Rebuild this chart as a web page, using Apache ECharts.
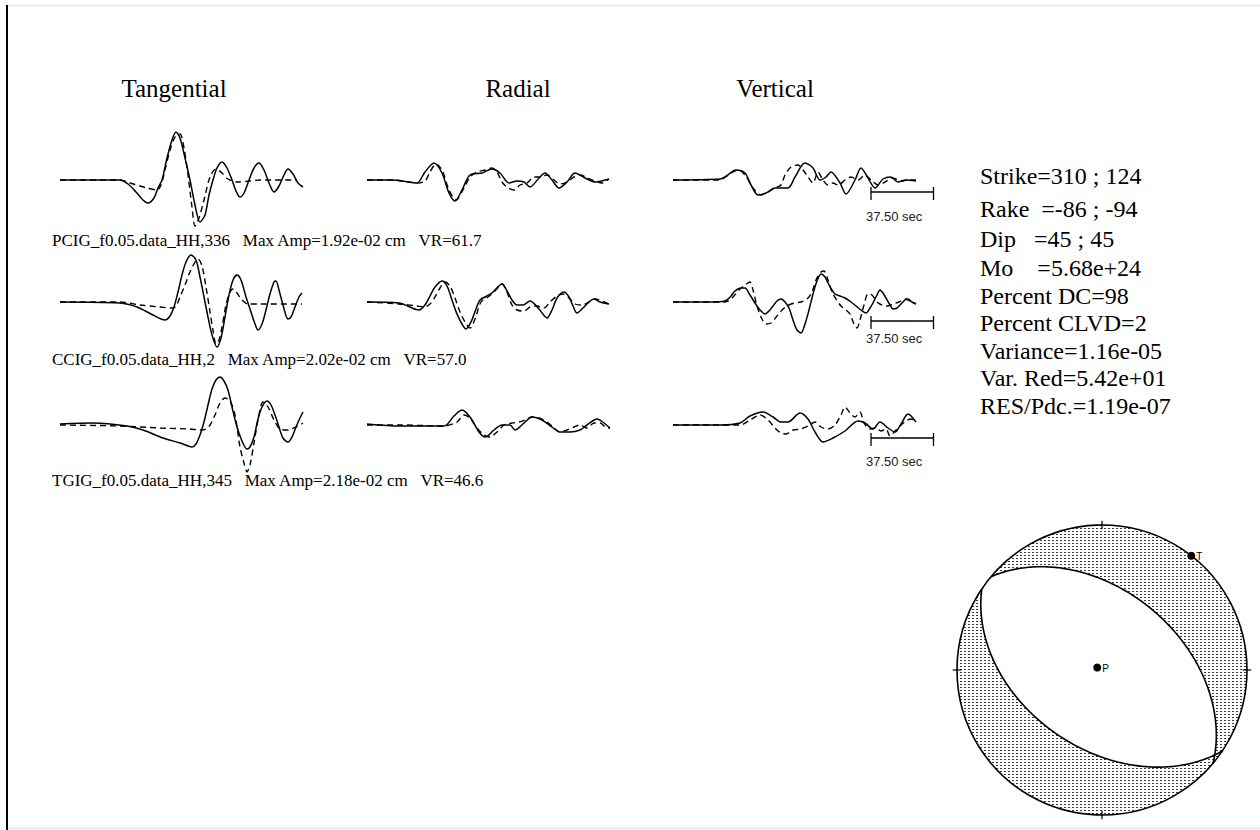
<!DOCTYPE html>
<html><head><meta charset="utf-8">
<script src="https://cdn.jsdelivr.net/npm/echarts/dist/echarts.min.js"></script>
<style>html,body{margin:0;padding:0;background:#fff}#chart{width:1260px;height:830px}</style>
</head><body><div id="chart"></div>
<script>
// ---------------- DATA ----------------
const DT = 0.6; // seconds per sample
const components = ['Tangential', 'Radial', 'Vertical'];
const stations = ['PCIG_f0.05.data_HH,336', 'CCIG_f0.05.data_HH,2', 'TGIG_f0.05.data_HH,345'];
const maxAmps = ['1.92e-02', '2.02e-02', '2.18e-02'];
const varReds = ['61.7', '57.0', '46.6'];
const scaleSec = 37.5;
const scaleStart = 198;
const scaleAmp = [-12, -19, -13];

// observed (solid) and synthetic (dashed) traces: [sample, relative amplitude]
const obsT1 = [[0,0],[60,0],[68,-4],[76,-12],[83,-20],[88,-23],[94,-18],[98,-8],[102,0],[107,22],[112,40],[116,48],[120,42],[125,22],[130,0],[135,-25],[140,-42],[145,-35],[149,-15],[153,0],[157,12],[162,18],[167,12],[172,0],[176,-11],[180,-17],[184,-13],[189,0],[194,12],[199,17],[204,10],[209,-3],[214,-12],[219,-6],[224,5],[228,11],[233,6],[238,-3],[243,-7]];
const synT1 = [[0,0],[60,0],[70,-3],[80,-6],[87,-8],[97,-10],[101,-5],[105,10],[110,30],[115,43],[120,46],[124,32],[128,5],[132,-27],[135,-46],[139,-38],[144,-20],[150,3],[156,11],[162,7],[168,1],[177,-2],[190,-1],[200,0],[237,0]];
const obsR1 = [[0,0],[25,0],[42,-2],[50,-3],[58,8],[67,17],[75,7],[82,-13],[88,-21],[95,-10],[103,5],[115,7],[125,11],[133,7],[142,-3],[150,-1],[157,-2],[163,-7],[172,2],[178,7],[185,0],[192,-8],[200,-2],[208,7],[218,2],[228,-2],[242,1]];
const synR1 = [[0,0],[25,0],[42,-2],[50,-3],[58,-1],[63,8],[69,16],[75,10],[82,-10],[89,-20],[96,-10],[103,3],[110,8],[118,10],[125,12],[130,8],[135,-2],[140,-7],[147,-10],[153,-5],[160,-3],[167,3],[173,3],[180,5],[187,0],[193,-4],[200,-2],[207,3],[214,5],[220,2],[228,-1],[235,-3],[242,1]];
const obsV1 = [[0,0],[47,1],[52,3],[63,10],[72,7],[78,-5],[85,-15],[93,-13],[102,-8],[115,-8],[122,3],[132,17],[140,12],[147,0],[153,3],[158,8],[167,-3],[173,-14],[182,0],[188,12],[195,2],[202,-8],[210,1],[218,3],[225,-2],[233,0],[243,-1]];
const synV1 = [[0,0],[47,0],[52,3],[60,8],[65,10],[72,5],[80,-8],[88,-15],[95,-12],[102,-8],[108,-5],[112,5],[118,13],[125,15],[130,10],[135,3],[140,-3],[145,8],[150,0],[155,-5],[160,-3],[165,-5],[172,0],[178,3],[185,0],[192,5],[198,0],[205,-5],[212,-2],[220,2],[228,-1],[235,0],[243,0]];

const obsT2 = [[0,0],[60,-1],[77,-5],[93,-13],[105,-18],[110,-14],[114,-5],[118,10],[122,27],[126,40],[131,47],[136,42],[140,25],[144,5],[148,-15],[152,-33],[157,-45],[161,-36],[165,-15],[169,7],[173,22],[177,27],[181,22],[186,5],[191,-10],[195,-22],[198,-28],[202,-22],[206,-8],[210,8],[214,20],[216,21],[219,12],[223,-3],[228,-17],[231,-15],[235,-5],[239,5],[242,9]];
const synT2 = [[0,0],[60,0],[80,-3],[100,-5],[112,-6],[116,-4],[120,5],[125,17],[130,30],[135,40],[138,43],[142,36],[146,15],[150,-10],[153,-28],[156,-42],[159,-38],[162,-25],[166,-3],[170,10],[173,13],[177,9],[182,2],[188,-2],[200,-2],[242,-2]];
const obsR2 = [[0,0],[32,-1],[52,-8],[58,-3],[63,6],[68,15],[75,21],[80,16],[85,2],[90,-12],[95,-22],[99,-27],[104,-20],[109,-7],[113,2],[120,6],[126,10],[135,18],[140,11],[145,2],[150,-3],[156,-3],[163,1],[172,-7],[180,-16],[185,-8],[190,4],[197,10],[202,5],[206,-4],[210,-11],[216,-6],[222,0],[227,3],[233,0],[242,-2]];
const synR2 = [[0,0],[32,-2],[50,-4],[57,-5],[63,-2],[68,5],[73,14],[78,20],[83,16],[88,4],[93,-10],[98,-20],[103,-26],[108,-17],[114,0],[121,5],[128,11],[135,18],[140,10],[145,-3],[150,-8],[157,-9],[163,-5],[170,-4],[177,-6],[183,0],[190,6],[196,8],[202,4],[208,-2],[215,-3],[222,0],[228,3],[235,1],[242,-2]];
const obsV2 = [[0,0],[37,0],[52,1],[58,6],[62,11],[68,14],[72,14],[77,7],[82,-1],[87,-8],[92,-12],[96,-9],[100,-4],[104,1],[108,3],[112,0],[116,-6],[120,-18],[124,-28],[128,-31],[132,-22],[136,-8],[140,8],[144,21],[148,28],[152,25],[155,19],[159,12],[162,8],[167,6],[172,4],[178,0],[183,-4],[188,-8],[193,-11],[197,-6],[200,-1],[204,7],[207,12],[210,9],[213,4],[217,-3],[220,-7],[224,-6],[228,-2],[232,2],[235,3],[239,0],[243,-2]];
const synV2 = [[0,0],[50,0],[55,1],[60,5],[66,12],[72,17],[77,20],[80,12],[84,-4],[88,-15],[93,-22],[98,-21],[104,-14],[110,-7],[116,-3],[122,-1],[128,0],[134,3],[139,10],[143,22],[148,30],[151,31],[155,22],[159,10],[163,3],[168,-4],[173,-8],[177,-12],[181,-22],[184,-26],[187,-18],[191,-3],[195,8],[199,7],[204,0],[209,-3],[214,-4],[220,-2],[226,0],[232,3],[237,1],[243,-2]];

const obsT3 = [[0,1],[33,2],[67,-1],[83,-5],[103,-13],[120,-18],[128,-21],[132,-22],[136,-19],[140,-10],[144,3],[148,20],[152,36],[156,45],[160,48],[164,44],[168,35],[172,18],[177,-2],[182,-16],[187,-24],[190,-22],[194,-12],[198,6],[202,18],[207,24],[211,20],[215,10],[219,-2],[223,-13],[228,-17],[232,-12],[236,-2],[240,7],[243,13]];
const synT3 = [[0,0],[60,-1],[100,-3],[130,-4],[140,-5],[146,-4],[150,0],[155,10],[160,22],[165,27],[170,24],[175,10],[180,-22],[184,-38],[187,-47],[190,-40],[194,-18],[198,5],[203,23],[208,18],[214,5],[220,-4],[228,-5],[236,-2],[243,2]];
const obsR3 = [[0,1],[33,-1],[77,-1],[87,9],[95,15],[103,8],[112,-7],[118,-12],[127,-5],[135,0],[143,0],[148,-5],[157,2],[165,8],[175,5],[185,-2],[193,-7],[203,-7],[213,-5],[220,0],[230,6],[237,2],[243,-3]];
const synR3 = [[0,0],[33,0],[77,-1],[90,3],[97,10],[103,7],[110,-3],[117,-10],[123,-12],[130,-7],[137,0],[145,2],[152,3],[158,5],[165,8],[172,7],[180,3],[187,-3],[193,-7],[200,-5],[207,-2],[213,0],[220,-3],[227,2],[233,2],[240,-3],[243,-3]];
const obsV3 = [[0,0],[47,0],[67,2],[77,9],[90,13],[100,8],[108,3],[115,3],[127,12],[135,6],[142,-7],[150,-17],[160,-13],[172,-6],[185,4],[192,2],[200,-4],[207,3],[215,-3],[222,-7],[228,1],[235,11],[243,3]];
const synV3 = [[0,0],[47,0],[67,0],[77,5],[87,10],[95,5],[102,-3],[108,-8],[113,-9],[120,-5],[128,-4],[135,-1],[142,3],[148,-2],[155,-4],[162,0],[168,10],[172,18],[177,12],[182,8],[187,13],[191,2],[197,-4],[203,-3],[208,-6],[213,-4],[217,-11],[222,-6],[228,0],[233,4],[238,6],[243,2]];

// focal mechanism solution
const fmStrike = [310, 124];
const fmDip = [45, 45];
const fmRake = [-86, -94];
const pAxis = [297, 87];   // trend, plunge
const tAxis = [38, 0];     // trend, plunge
const solutionLines = [
  'Strike=310 ; 124',
  'Rake\u00a0\u00a0=-86 ; -94',
  'Dip\u00a0\u00a0\u00a0=45 ; 45',
  'Mo\u00a0\u00a0\u00a0\u00a0=5.68e+24',
  'Percent DC=98',
  'Percent CLVD=2',
  'Variance=1.16e-05',
  'Var. Red=5.42e+01',
  'RES/Pdc.=1.19e-07'
];

// ---------------- LAYOUT ----------------
const panelLeft = [60, 367, 673];
const rowBase = [180, 302, 425];
const panelW = 243;
const traces = [
  [[obsT1, synT1], [obsR1, synR1], [obsV1, synV1]],
  [[obsT2, synT2], [obsR2, synR2], [obsV2, synV2]],
  [[obsT3, synT3], [obsR3, synR3], [obsV3, synV3]]
];
const SERIF = '"Liberation Serif", "Times New Roman", serif';
const SANS = '"Liberation Sans", Arial, sans-serif';

const grids = [], xAxes = [], yAxes = [], series = [];
for (let r = 0; r < 3; r++) {
  for (let c = 0; c < 3; c++) {
    const gi = grids.length;
    grids.push({ left: panelLeft[c], top: rowBase[r] - 50, width: panelW, height: 100 });
    xAxes.push({ gridIndex: gi, type: 'value', min: 0, max: panelW, show: false });
    yAxes.push({ gridIndex: gi, type: 'value', min: -50, max: 50, show: false });
    const [obs, syn] = traces[r][c];
    series.push({ type: 'line', xAxisIndex: gi, yAxisIndex: gi, data: obs, symbol: 'none', smooth: 0.3, clip: false, silent: true,
      lineStyle: { color: '#000', width: 1.5 } });
    series.push({ type: 'line', xAxisIndex: gi, yAxisIndex: gi, data: syn, symbol: 'none', smooth: 0.3, clip: false, silent: true,
      lineStyle: { color: '#000', width: 1.4, type: [6, 4] } });
    if (c === 2) {
      series.push({ type: 'custom', xAxisIndex: gi, yAxisIndex: gi, clip: false, silent: true,
        data: [[scaleStart, scaleSec / DT, scaleAmp[r]]],
        renderItem: function (params, api) {
          const a = api.value(0), len = api.value(1), amp = api.value(2);
          const p0 = api.coord([a, amp]), p1 = api.coord([a + len, amp]);
          const pl = api.coord([a + len * 0.37, -36]);
          const st = { stroke: '#000', lineWidth: 1.3 };
          return { type: 'group', children: [
            { type: 'line', shape: { x1: p0[0], y1: p0[1], x2: p1[0], y2: p1[1] }, style: st },
            { type: 'line', shape: { x1: p0[0], y1: p0[1] - 5, x2: p0[0], y2: p0[1] + 8 }, style: st },
            { type: 'line', shape: { x1: p1[0], y1: p1[1] - 5, x2: p1[0], y2: p1[1] + 8 }, style: st },
            { type: 'text', x: pl[0], y: pl[1], style: { text: scaleSec.toFixed(2) + ' sec', fill: '#222',
              font: '13px ' + SANS, align: 'center', verticalAlign: 'middle',
              textAlign: 'center', textVerticalAlign: 'middle' } }
          ]};
        }
      });
    }
  }
}

// ---------------- BEACHBALL ----------------
const D2R = Math.PI / 180;
function proj(trend, plunge) {
  const r = Math.SQRT2 * Math.sin((90 - plunge) * D2R / 2);
  return [r * Math.sin(trend * D2R), r * Math.cos(trend * D2R)];
}
function planePoint(strike, dip, lam) {
  const s = strike * D2R, d = dip * D2R, l = lam * D2R, dd = s + Math.PI / 2;
  const sv = [Math.cos(s), Math.sin(s), 0];
  const dv = [Math.cos(d) * Math.cos(dd), Math.cos(d) * Math.sin(dd), Math.sin(d)];
  const v = [0, 1, 2].map(i => Math.cos(l) * sv[i] + Math.sin(l) * dv[i]);
  const pl = Math.asin(Math.max(-1, Math.min(1, v[2]))) / D2R;
  const tr = Math.atan2(v[1], v[0]) / D2R;
  return proj(tr, pl);
}
function arc(strike, dip, l0, l1) {
  const pts = [], step = l1 >= l0 ? 1 : -1;
  for (let l = l0; step > 0 ? l <= l1 : l >= l1; l += step) pts.push(planePoint(strike, dip, l));
  return pts;
}
function nullLam(rake) {
  const ls = (((-rake) % 180) + 180) % 180;
  return ls + 90 <= 180 ? ls + 90 : ls - 90;
}
const patCanvas = document.createElement('canvas');
patCanvas.width = 4; patCanvas.height = 3;
const pctx = patCanvas.getContext('2d');
pctx.fillStyle = '#3a3a3a';
pctx.fillRect(0, 0, 2, 1);
const dotPattern = { image: patCanvas.toDataURL(), repeat: 'repeat' };

const bbIndex = grids.length;
grids.push({ left: 957, top: 525, width: 290, height: 290 });
xAxes.push({ gridIndex: bbIndex, type: 'value', min: -1, max: 1, show: false });
yAxes.push({ gridIndex: bbIndex, type: 'value', min: -1, max: 1, show: false });

series.push({ type: 'custom', xAxisIndex: bbIndex, yAxisIndex: bbIndex, clip: false, silent: true, data: [[0, 0]],
  renderItem: function (params, api) {
    const c = api.coord([0, 0]);
    const R = api.size([2, 2])[0] / 2;
    const toPx = p => api.coord(p);
    const lens = arc(fmStrike[0], fmDip[0], 0, nullLam(fmRake[0]))
      .concat(arc(fmStrike[1], fmDip[1], nullLam(fmRake[1]), 180)).map(toPx);
    const pl1 = arc(fmStrike[0], fmDip[0], 0, 180).map(toPx);
    const pl2 = arc(fmStrike[1], fmDip[1], 0, 180).map(toPx);
    const ln = { stroke: '#000', lineWidth: 1.6, fill: null };
    const kids = [
      { type: 'circle', shape: { cx: c[0], cy: c[1], r: R }, style: { fill: dotPattern, stroke: null } },
      { type: 'polygon', shape: { points: lens }, style: { fill: '#fff', stroke: null } },
      { type: 'circle', shape: { cx: c[0], cy: c[1], r: R }, style: { fill: null, stroke: '#000', lineWidth: 1.6 } },
      { type: 'polyline', shape: { points: pl1 }, style: ln },
      { type: 'polyline', shape: { points: pl2 }, style: ln }
    ];
    [0, 90, 180, 270].forEach(az => {
      const a = api.coord(proj(az, 0).map(v => v * 0.97));
      const b = api.coord(proj(az, 0).map(v => v * 1.03));
      kids.push({ type: 'line', shape: { x1: a[0], y1: a[1], x2: b[0], y2: b[1] }, style: { stroke: '#000', lineWidth: 1.2 } });
    });
    [[pAxis, 'P'], [tAxis, 'T']].forEach(([ax, name]) => {
      const p = api.coord(proj(ax[0], ax[1]));
      kids.push({ type: 'circle', shape: { cx: p[0], cy: p[1], r: 4 }, style: { fill: '#000', stroke: null } });
      kids.push({ type: 'text', x: p[0] + 5, y: p[1] + 1, style: { text: name, fill: '#000', font: '10px ' + SANS,
        align: 'left', verticalAlign: 'middle', textAlign: 'left', textVerticalAlign: 'middle' } });
    });
    return { type: 'group', children: kids };
  }
});

// ---------------- TEXT & FRAME ----------------
const graphics = [
  { type: 'line', shape: { x1: 6, y1: 5.5, x2: 1260, y2: 5.5 }, style: { stroke: '#e4e4e4', lineWidth: 1.5 } },
  { type: 'line', shape: { x1: 6, y1: 828.5, x2: 1260, y2: 828.5 }, style: { stroke: '#e4e4e4', lineWidth: 1.5 } },
  { type: 'line', shape: { x1: 7, y1: 5, x2: 7, y2: 830 }, style: { stroke: '#000', lineWidth: 2 } }
];
const headerX = [174, 518, 775];
components.forEach((t, i) => graphics.push({ type: 'text', x: headerX[i], y: 88,
  style: { text: t, fill: '#000', font: '25px ' + SERIF, textAlign: 'center', textVerticalAlign: 'middle', align: 'center', verticalAlign: 'middle' } }));
const labelY = [240, 359, 480];
stations.forEach((s, i) => graphics.push({ type: 'text', x: 52, y: labelY[i],
  style: { text: s + '\u00a0\u00a0\u00a0Max Amp=' + maxAmps[i] + ' cm\u00a0\u00a0\u00a0VR=' + varReds[i], fill: '#000',
    font: '17px ' + SERIF, textAlign: 'left', textVerticalAlign: 'middle', align: 'left', verticalAlign: 'middle' } }));
const solutionY = [176, 209, 239, 268, 296, 323, 351, 378, 406];
solutionLines.forEach((s, i) => graphics.push({ type: 'text', x: 980, y: solutionY[i],
  style: { text: s, fill: '#000', font: '24px ' + SERIF, textAlign: 'left', textVerticalAlign: 'middle', align: 'left', verticalAlign: 'middle' } }));

const chart = echarts.init(document.getElementById('chart'), null, { renderer: 'svg', width: 1260, height: 830 });
chart.setOption({
  backgroundColor: '#fff',
  animation: false,
  grid: grids,
  xAxis: xAxes,
  yAxis: yAxes,
  series: series,
  graphic: graphics
});
</script></body></html>
